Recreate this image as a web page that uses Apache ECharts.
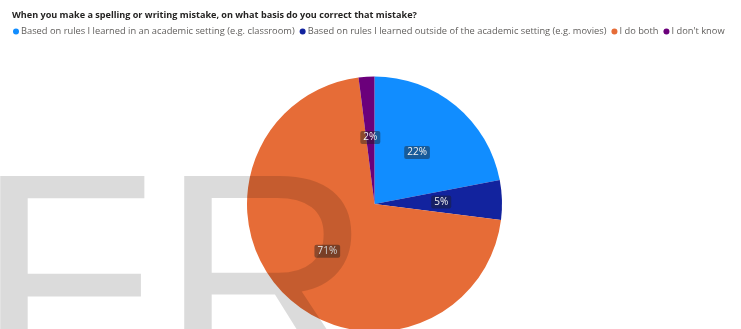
<!DOCTYPE html>
<html>
<head>
<meta charset="utf-8">
<script src="https://cdn.jsdelivr.net/npm/echarts@6/dist/echarts.min.js"></script>
<style>
  html, body { margin: 0; padding: 0; background: #fff; }
  #chart { width: 741px; height: 329px; }
</style>
</head>
<body>
<div id="chart"></div>
<script>
// Survey answers: share of respondents per correction strategy (%)
const titleText = 'When you make a spelling or writing mistake, on what basis do you correct that mistake?';
const categories = [
  'Based on rules I learned in an academic setting (e.g. classroom)',
  'Based on rules I learned outside of the academic setting (e.g. movies)',
  'I do both',
  "I don't know"
];
const values = [22, 5, 71, 2];
const colors = ['#118DFF', '#12239E', '#E66C37', '#6B007B'];
const watermarkLetters = ['F', 'R'];

const chart = echarts.init(document.getElementById('chart'), null, { renderer: 'canvas' });

const watermarkFont = '295px "Liberation Sans"';
const watermarkFill = 'rgba(0,0,0,0.14)';

chart.setOption({
  animation: false,
  backgroundColor: '#ffffff',
  color: colors,
  title: {
    text: titleText,
    left: 7,
    top: 6,
    textStyle: {
      fontFamily: 'Open Sans',
      fontSize: 9.1,
      fontWeight: 'bold',
      color: '#252423'
    }
  },
  legend: {
    data: categories,
    left: 13,
    top: 27,
    icon: 'circle',
    itemWidth: 6,
    itemHeight: 6,
    itemGap: 5,
    padding: 0,
    textStyle: {
      fontFamily: 'Open Sans',
      fontSize: 9.3,
      color: '#605E5C',
      padding: [0, 0, 0, -3]
    }
  },
  series: [{
    type: 'pie',
    center: [374.5, 204],
    radius: [0, 127.5],
    startAngle: 90,
    clockwise: true,
    avoidLabelOverlap: false,
    label: {
      show: true,
      position: 'inside',
      formatter: '{d}%',
      precision: 0,
      fontFamily: 'Open Sans',
      fontSize: 10,
      color: '#f2f2f2',
      backgroundColor: 'rgba(30,30,30,0.45)',
      padding: [2, 3, 1, 3],
      borderRadius: 2
    },
    labelLine: { show: false },
    itemStyle: { borderWidth: 0 },
    emphasis: { disabled: true },
    data: categories.map((name, i) => ({ name: name, value: values[i] }))
  }],
  graphic: [{
    type: 'text',
    silent: true,
    z: 100,
    left: -24,
    top: 150,
    style: { text: watermarkLetters[0], font: watermarkFont, fill: watermarkFill }
  }, {
    type: 'text',
    silent: true,
    z: 100,
    left: 160,
    top: 150,
    style: { text: watermarkLetters[1], font: watermarkFont, fill: watermarkFill }
  }]
});
</script>
</body>
</html>
